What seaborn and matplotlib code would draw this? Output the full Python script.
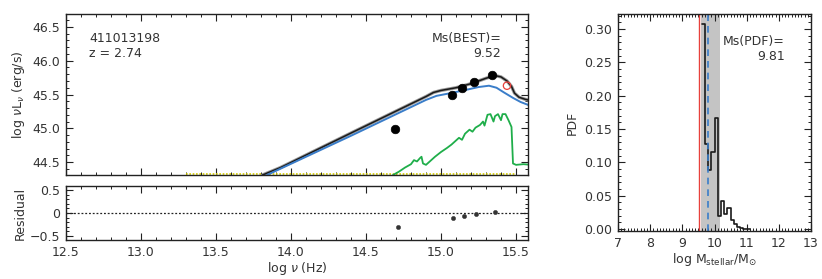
import numpy as np
import pandas as pd
import matplotlib
matplotlib.use("Agg")
import matplotlib.pyplot as plt
import seaborn as sns
from matplotlib.ticker import MultipleLocator, FixedLocator, FixedFormatter

# ---------------- data ----------------
obj_id = "411013198"
redshift = 2.74
ms_best = 9.52
ms_pdf = 9.81
pdf_lo, pdf_hi = 9.58, 10.17

obs_lognu = [14.69, 15.07, 15.14, 15.22, 15.34]
obs_lum = [44.99, 45.49, 45.59, 45.68, 45.79]
excl_lognu = [15.44]
excl_lum = [45.63]

total_lognu = [13.81, 13.93, 14.40, 14.90, 14.95, 15.00, 15.10, 15.20, 15.30,
               15.36, 15.40, 15.44, 15.47, 15.49, 15.52, 15.56, 15.60]
total_lum = [44.31, 44.42, 44.93, 45.47, 45.53, 45.56, 45.60, 45.66, 45.74,
             45.78, 45.76, 45.70, 45.62, 45.52, 45.46, 45.43, 45.41]

agn_lognu = [13.84, 14.40, 14.90, 14.97, 15.04, 15.15, 15.25, 15.32, 15.37,
             15.42, 15.48, 15.53, 15.60]
agn_lum = [44.31, 44.89, 45.42, 45.48, 45.51, 45.56, 45.61, 45.63, 45.60,
           45.53, 45.45, 45.39, 45.33]

gal_lognu = [14.68, 14.72, 14.76, 14.80, 14.82, 14.84, 14.86, 14.87, 14.88,
             14.90, 14.93, 14.96, 15.00, 15.04, 15.07, 15.10, 15.12, 15.14,
             15.16, 15.19, 15.21, 15.23, 15.26, 15.28, 15.29, 15.31, 15.33,
             15.35, 15.36, 15.38, 15.40, 15.41, 15.43, 15.45, 15.46, 15.47,
             15.48, 15.50, 15.55, 15.60]
gal_lum = [44.31, 44.36, 44.42, 44.47, 44.53, 44.51, 44.56, 44.58, 44.48,
           44.46, 44.52, 44.58, 44.65, 44.71, 44.76, 44.82, 44.86, 44.83,
           44.92, 44.98, 44.95, 45.01, 45.05, 45.10, 45.04, 45.20, 45.21,
           45.10, 45.18, 45.21, 45.12, 45.21, 45.21, 45.12, 45.07, 45.02,
           44.48, 44.46, 44.47, 44.46]

dust_lognu = [13.30, 15.50]
dust_lum = [44.32, 44.32]

resid_lognu = [14.71, 15.08, 15.15, 15.23, 15.36]
resid = [-0.30, -0.12, -0.07, -0.03, 0.02]

mass_edges = [9.6, 9.7, 9.8, 9.9, 10.0, 10.1, 10.2, 10.3, 10.4, 10.5, 10.6,
              10.7, 10.8, 10.9, 11.0, 11.1]
mass_pdf = [0.307, 0.128, 0.088, 0.116, 0.166, 0.020, 0.042, 0.022, 0.031,
            0.013, 0.007, 0.003, 0.001, 0.0, 0.0]

resid_ticks = [-0.5, 0, 0.5]
resid_ticklabels = ["\u22120.5", "0", "0.5"]

# ---------------- style ----------------
sns.set_theme(style="ticks")
plt.rcParams["font.family"] = ["DejaVu Sans"]
plt.rcParams["mathtext.fontset"] = "dejavusans"
plt.rcParams["axes.linewidth"] = 1.0
plt.rcParams["axes.edgecolor"] = "#222222"

FS = 9
TXT = "#333333"
W, H = 822, 279
fig = plt.figure(figsize=(W / 100, H / 100), dpi=100)


def box(l, t, r, b):
    return [l / W, 1 - b / H, (r - l) / W, (b - t) / H]


ax1 = fig.add_axes(box(66, 14, 528, 175))
ax2 = fig.add_axes(box(66, 186, 528, 240))
ax3 = fig.add_axes(box(618, 14, 811, 231))


def style_ticks(ax):
    ax.tick_params(which="both", direction="in", top=True, right=True,
                   colors="#222222", labelsize=FS, labelcolor=TXT)
    ax.tick_params(which="major", length=5, width=0.8, pad=4)
    ax.tick_params(which="minor", length=2.5, width=0.7)


# ---- SED panel ----
sns.lineplot(x=dust_lognu, y=dust_lum, ax=ax1, color="#d8cf00", lw=1.2,
             linestyle=(0, (1, 1)), estimator=None, sort=False)
sns.lineplot(x=gal_lognu, y=gal_lum, ax=ax1, color="#1fae4a", lw=1.3,
             estimator=None, sort=False)
sns.lineplot(x=total_lognu, y=total_lum, ax=ax1, color="#9a9a9a", lw=2.4,
             estimator=None, sort=False)
sns.lineplot(x=total_lognu, y=total_lum, ax=ax1, color="#1a1a1a", lw=1.1,
             estimator=None, sort=False)
sns.lineplot(x=agn_lognu, y=agn_lum, ax=ax1, color="#3a7dc9", lw=1.4,
             estimator=None, sort=False)
sns.scatterplot(x=obs_lognu, y=obs_lum, ax=ax1, color="black", s=38,
                edgecolor="black", linewidth=0.5, zorder=5)
sns.scatterplot(x=excl_lognu, y=excl_lum, ax=ax1, s=28, facecolor="none",
                edgecolor="#e8413c", linewidth=0.9, zorder=5)
ax1.set_xlim(12.5, 15.58)
ax1.set_ylim(44.31, 46.69)
ax1.xaxis.set_major_locator(MultipleLocator(0.5))
ax1.xaxis.set_minor_locator(MultipleLocator(0.1))
ax1.yaxis.set_major_locator(MultipleLocator(0.5))
ax1.yaxis.set_minor_locator(MultipleLocator(0.1))
style_ticks(ax1)
ax1.tick_params(axis="x", labelbottom=False)
ax1.set_xlabel("")
ax1.set_ylabel(r"log $\nu$L$_\nu$ (erg/s)", fontsize=FS, color=TXT,
               labelpad=4)
ax1.text(0.05, 0.89, f"{obj_id}\nz = {redshift:.2f}", transform=ax1.transAxes,
         ha="left", va="top", fontsize=FS, color=TXT, linespacing=1.2)
ax1.text(0.942, 0.89, f"Ms(BEST)=\n{ms_best:.2f}", transform=ax1.transAxes,
         ha="right", va="top", fontsize=FS, color=TXT, linespacing=1.2,
         multialignment="right")

# ---- residual panel ----
ax2.axhline(0, color="#222222", lw=0.9, linestyle=(0, (1.5, 1.5)))
sns.scatterplot(x=resid_lognu, y=resid, ax=ax2, color="#333333", s=10,
                edgecolor="#333333", zorder=5)
ax2.set_xlim(12.5, 15.58)
ax2.set_ylim(-0.59, 0.59)
ax2.xaxis.set_major_locator(MultipleLocator(0.5))
ax2.xaxis.set_minor_locator(MultipleLocator(0.1))
ax2.yaxis.set_major_locator(FixedLocator(resid_ticks))
ax2.yaxis.set_major_formatter(FixedFormatter(resid_ticklabels))
ax2.yaxis.set_minor_locator(MultipleLocator(0.1))
style_ticks(ax2)
ax2.set_xlabel(r"log $\nu$ (Hz)", fontsize=FS, color=TXT, labelpad=1)
ax2.set_ylabel("Residual", fontsize=FS, color=TXT, labelpad=2)

# ---- mass PDF panel ----
ax3.axvspan(pdf_lo, pdf_hi, color="#c4c4c4", lw=0, zorder=0)
centers = [(a + b) / 2 for a, b in zip(mass_edges[:-1], mass_edges[1:])]
sns.histplot(x=centers, weights=mass_pdf, bins=mass_edges, element="step",
             fill=False, color="#1a1a1a", lw=1.2, ax=ax3)
ax3.axvline(ms_best, color="#e8413c", lw=1.0)
ax3.axvline(ms_pdf, color="#3a7dc9", lw=1.2, linestyle=(0, (4, 3)))
ax3.set_xlim(7, 13)
ax3.set_ylim(-0.003, 0.3225)
ax3.xaxis.set_major_locator(MultipleLocator(1))
ax3.xaxis.set_minor_locator(MultipleLocator(0.1))
ax3.yaxis.set_major_locator(MultipleLocator(0.05))
ax3.yaxis.set_minor_locator(MultipleLocator(0.01))
ax3.yaxis.set_major_formatter(matplotlib.ticker.FormatStrFormatter("%.2f"))
style_ticks(ax3)
ax3.set_xlabel(r"log M$_{\rm stellar}$/M$_{\odot}$", fontsize=FS,
               color=TXT, labelpad=1)
ax3.set_ylabel("PDF", fontsize=FS, color=TXT, labelpad=4)
ax3.text(0.865, 0.905, f"Ms(PDF)=\n{ms_pdf:.2f}", transform=ax3.transAxes,
         ha="right", va="top", fontsize=FS, color=TXT, linespacing=1.2,
         multialignment="right")

fig.savefig("out.png", dpi=100)
